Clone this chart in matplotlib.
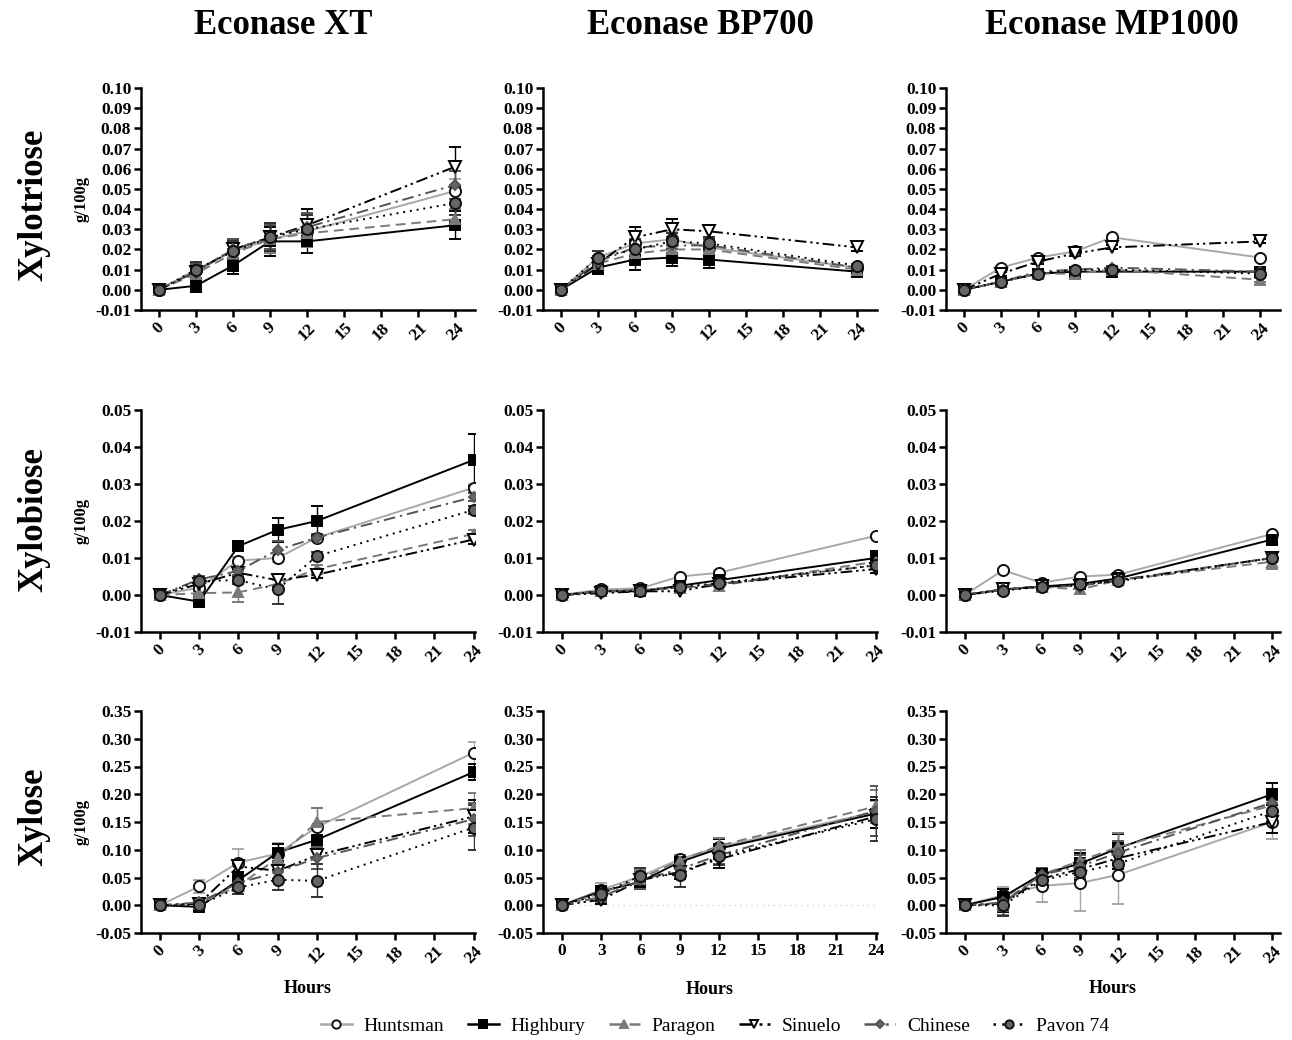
import numpy as np
import matplotlib
matplotlib.use("Agg")
import matplotlib.pyplot as plt
from matplotlib.lines import Line2D

plt.rcParams['font.family'] = ['Liberation Serif', 'DejaVu Serif']

hours = [0, 3, 6, 9, 12, 24]
varieties = ["Huntsman", "Highbury", "Paragon", "Sinuelo", "Chinese", "Pavon 74"]
enzymes = ["Econase XT", "Econase BP700", "Econase MP1000"]
sugars = ["Xylotriose", "Xylobiose", "Xylose"]

# ---- Xylotriose (g/100g) ----
tri_xt = {
    "Huntsman": [0, 0.010, 0.019, 0.025, 0.029, 0.049],
    "Highbury": [0, 0.002, 0.012, 0.024, 0.024, 0.032],
    "Paragon":  [0, 0.008, 0.018, 0.025, 0.028, 0.035],
    "Sinuelo":  [0, 0.009, 0.020, 0.026, 0.032, 0.061],
    "Chinese":  [0, 0.009, 0.020, 0.026, 0.031, 0.052],
    "Pavon 74": [0, 0.010, 0.019, 0.026, 0.030, 0.043],
}
tri_xt_err = {
    "Huntsman": [0, 0.004, 0.005, 0.007, 0.008, 0.006],
    "Highbury": [0, 0.003, 0.004, 0.007, 0.006, 0.007],
    "Paragon":  [0, 0.003, 0.004, 0.007, 0.007, 0.005],
    "Sinuelo":  [0, 0.004, 0.005, 0.007, 0.008, 0.010],
    "Chinese":  [0, 0.004, 0.005, 0.006, 0.007, 0.007],
    "Pavon 74": [0, 0.004, 0.005, 0.007, 0.007, 0.006],
}
tri_bp = {
    "Huntsman": [0, 0.016, 0.023, 0.025, 0.021, 0.011],
    "Highbury": [0, 0.011, 0.015, 0.016, 0.015, 0.009],
    "Paragon":  [0, 0.013, 0.018, 0.020, 0.020, 0.010],
    "Sinuelo":  [0, 0.013, 0.026, 0.030, 0.029, 0.021],
    "Chinese":  [0, 0.014, 0.021, 0.022, 0.022, 0.011],
    "Pavon 74": [0, 0.016, 0.020, 0.024, 0.023, 0.012],
}
tri_bp_err = {
    "Huntsman": [0, 0.003, 0.004, 0.004, 0.003, 0.001],
    "Highbury": [0, 0.003, 0.005, 0.004, 0.004, 0.001],
    "Paragon":  [0, 0.003, 0.004, 0.004, 0.003, 0.001],
    "Sinuelo":  [0, 0.003, 0.005, 0.005, 0.003, 0.002],
    "Chinese":  [0, 0.003, 0.004, 0.004, 0.003, 0.001],
    "Pavon 74": [0, 0.003, 0.004, 0.004, 0.003, 0.001],
}
tri_mp = {
    "Huntsman": [0, 0.011, 0.016, 0.019, 0.026, 0.016],
    "Highbury": [0, 0.004, 0.008, 0.009, 0.009, 0.009],
    "Paragon":  [0, 0.004, 0.008, 0.008, 0.010, 0.005],
    "Sinuelo":  [0, 0.008, 0.014, 0.018, 0.021, 0.024],
    "Chinese":  [0, 0.004, 0.009, 0.010, 0.011, 0.009],
    "Pavon 74": [0, 0.004, 0.008, 0.010, 0.010, 0.008],
}
tri_mp_err = {
    "Huntsman": [0, 0.001, 0.001, 0.001, 0.001, 0.001],
    "Highbury": [0, 0.001, 0.001, 0.001, 0.001, 0.001],
    "Paragon":  [0, 0.001, 0.001, 0.001, 0.001, 0.001],
    "Sinuelo":  [0, 0.001, 0.001, 0.001, 0.001, 0.001],
    "Chinese":  [0, 0.001, 0.001, 0.001, 0.001, 0.001],
    "Pavon 74": [0, 0.001, 0.001, 0.001, 0.001, 0.001],
}

# ---- Xylobiose (g/100g) ----
bi_xt = {
    "Huntsman": [0, 0.0020, 0.0093, 0.0100, 0.0155, 0.0290],
    "Highbury": [0, -0.0018, 0.0132, 0.0176, 0.0200, 0.0365],
    "Paragon":  [0, 0.0005, 0.0007, 0.0030, 0.0070, 0.0165],
    "Sinuelo":  [0, 0.0030, 0.0060, 0.0040, 0.0055, 0.0150],
    "Chinese":  [0, 0.0042, 0.0065, 0.0122, 0.0155, 0.0265],
    "Pavon 74": [0, 0.0038, 0.0040, 0.0015, 0.0105, 0.0230],
}
bi_xt_err = {
    "Huntsman": [0, 0.0010, 0.0010, 0.0010, 0.0010, 0.0010],
    "Highbury": [0, 0.0005, 0.0010, 0.0033, 0.0040, 0.0070],
    "Paragon":  [0, 0.0005, 0.0025, 0.0010, 0.0010, 0.0010],
    "Sinuelo":  [0, 0.0010, 0.0010, 0.0015, 0.0010, 0.0012],
    "Chinese":  [0, 0.0010, 0.0010, 0.0025, 0.0010, 0.0010],
    "Pavon 74": [0, 0.0010, 0.0010, 0.0040, 0.0010, 0.0010],
}
bi_bp = {
    "Huntsman": [0, 0.0015, 0.0018, 0.0050, 0.0060, 0.0160],
    "Highbury": [0, 0.0010, 0.0010, 0.0025, 0.0040, 0.0100],
    "Paragon":  [0, 0.0010, 0.0015, 0.0020, 0.0025, 0.0090],
    "Sinuelo":  [0, 0.0005, 0.0010, 0.0010, 0.0030, 0.0070],
    "Chinese":  [0, 0.0010, 0.0012, 0.0020, 0.0030, 0.0080],
    "Pavon 74": [0, 0.0010, 0.0012, 0.0022, 0.0032, 0.0080],
}
bi_bp_err = {
    "Huntsman": [0, 0.0003, 0.0003, 0.0004, 0.0004, 0.0005],
    "Highbury": [0, 0.0003, 0.0003, 0.0004, 0.0004, 0.0020],
    "Paragon":  [0, 0.0003, 0.0003, 0.0004, 0.0004, 0.0010],
    "Sinuelo":  [0, 0.0003, 0.0003, 0.0004, 0.0004, 0.0010],
    "Chinese":  [0, 0.0003, 0.0003, 0.0004, 0.0004, 0.0010],
    "Pavon 74": [0, 0.0003, 0.0003, 0.0004, 0.0004, 0.0010],
}
bi_mp = {
    "Huntsman": [0, 0.0067, 0.0033, 0.0050, 0.0055, 0.0165],
    "Highbury": [0, 0.0015, 0.0023, 0.0030, 0.0045, 0.0150],
    "Paragon":  [0, 0.0015, 0.0022, 0.0015, 0.0040, 0.0090],
    "Sinuelo":  [0, 0.0015, 0.0023, 0.0025, 0.0040, 0.0100],
    "Chinese":  [0, 0.0015, 0.0022, 0.0025, 0.0040, 0.0100],
    "Pavon 74": [0, 0.0012, 0.0022, 0.0030, 0.0037, 0.0100],
}
bi_mp_err = {
    "Huntsman": [0, 0.0004, 0.0004, 0.0004, 0.0004, 0.0006],
    "Highbury": [0, 0.0004, 0.0004, 0.0004, 0.0004, 0.0008],
    "Paragon":  [0, 0.0004, 0.0004, 0.0012, 0.0004, 0.0020],
    "Sinuelo":  [0, 0.0004, 0.0004, 0.0004, 0.0004, 0.0010],
    "Chinese":  [0, 0.0004, 0.0004, 0.0004, 0.0004, 0.0010],
    "Pavon 74": [0, 0.0004, 0.0004, 0.0004, 0.0004, 0.0010],
}

# ---- Xylose (g/100g) ----
xy_xt = {
    "Huntsman": [0, 0.034, 0.077, 0.093, 0.141, 0.275],
    "Highbury": [0, -0.003, 0.045, 0.095, 0.118, 0.240],
    "Paragon":  [0, 0.003, 0.035, 0.085, 0.150, 0.175],
    "Sinuelo":  [0, 0.003, 0.070, 0.062, 0.090, 0.160],
    "Chinese":  [0, 0.005, 0.040, 0.060, 0.085, 0.155],
    "Pavon 74": [0, 0.000, 0.032, 0.046, 0.044, 0.140],
}
xy_xt_err = {
    "Huntsman": [0, 0.012, 0.025, 0.020, 0.035, 0.020],
    "Highbury": [0, 0.008, 0.015, 0.015, 0.020, 0.015],
    "Paragon":  [0, 0.008, 0.015, 0.015, 0.025, 0.028],
    "Sinuelo":  [0, 0.008, 0.012, 0.015, 0.025, 0.030],
    "Chinese":  [0, 0.008, 0.012, 0.015, 0.020, 0.030],
    "Pavon 74": [0, 0.008, 0.012, 0.018, 0.030, 0.040],
}
xy_bp = {
    "Huntsman": [0, 0.028, 0.052, 0.083, 0.105, 0.168],
    "Highbury": [0, 0.025, 0.042, 0.078, 0.102, 0.165],
    "Paragon":  [0, 0.022, 0.048, 0.080, 0.107, 0.178],
    "Sinuelo":  [0, 0.010, 0.045, 0.060, 0.083, 0.160],
    "Chinese":  [0, 0.015, 0.045, 0.065, 0.090, 0.170],
    "Pavon 74": [0, 0.020, 0.053, 0.055, 0.088, 0.155],
}
xy_bp_err = {
    "Huntsman": [0, 0.012, 0.015, 0.008, 0.015, 0.020],
    "Highbury": [0, 0.010, 0.012, 0.010, 0.018, 0.025],
    "Paragon":  [0, 0.010, 0.015, 0.010, 0.015, 0.030],
    "Sinuelo":  [0, 0.008, 0.012, 0.012, 0.015, 0.035],
    "Chinese":  [0, 0.010, 0.015, 0.010, 0.015, 0.045],
    "Pavon 74": [0, 0.010, 0.015, 0.022, 0.015, 0.040],
}
xy_mp = {
    "Huntsman": [0, 0.018, 0.035, 0.040, 0.055, 0.150],
    "Highbury": [0, 0.015, 0.056, 0.075, 0.103, 0.200],
    "Paragon":  [0, 0.003, 0.055, 0.080, 0.105, 0.180],
    "Sinuelo":  [0, 0.003, 0.048, 0.065, 0.085, 0.150],
    "Chinese":  [0, 0.005, 0.055, 0.070, 0.095, 0.185],
    "Pavon 74": [0, 0.000, 0.045, 0.060, 0.075, 0.170],
}
xy_mp_err = {
    "Huntsman": [0, 0.015, 0.030, 0.050, 0.053, 0.030],
    "Highbury": [0, 0.015, 0.012, 0.020, 0.025, 0.020],
    "Paragon":  [0, 0.020, 0.012, 0.020, 0.025, 0.020],
    "Sinuelo":  [0, 0.015, 0.012, 0.020, 0.020, 0.020],
    "Chinese":  [0, 0.015, 0.012, 0.020, 0.020, 0.020],
    "Pavon 74": [0, 0.020, 0.012, 0.020, 0.020, 0.020],
}

panel_data = [
    [(tri_xt, tri_xt_err), (tri_bp, tri_bp_err), (tri_mp, tri_mp_err)],
    [(bi_xt, bi_xt_err), (bi_bp, bi_bp_err), (bi_mp, bi_mp_err)],
    [(xy_xt, xy_xt_err), (xy_bp, xy_bp_err), (xy_mp, xy_mp_err)],
]
row_yticks = [np.round(np.arange(-0.01, 0.1001, 0.01), 2),
              np.round(np.arange(-0.01, 0.0501, 0.01), 2),
              np.round(np.arange(-0.05, 0.3501, 0.05), 2)]
xticks = [0, 3, 6, 9, 12, 15, 18, 21, 24]

styles = {
    "Huntsman": dict(color='#a8a8a8', ls='-', marker='o', mfc='white', mec='#111111', ms=8, ecol='#a8a8a8'),
    "Highbury": dict(color='#000000', ls='-', marker='s', mfc='#000000', mec='#000000', ms=7.5, ecol='#000000'),
    "Paragon":  dict(color='#7a7a7a', ls=(0, (5, 3)), marker='^', mfc='#7a7a7a', mec='#7a7a7a', ms=7.5, ecol='#7a7a7a'),
    "Sinuelo":  dict(color='#000000', ls=(0, (6, 2, 1.2, 2, 1.2, 2)), marker='v', mfc='white', mec='#000000', ms=8.5, ecol='#000000'),
    "Chinese":  dict(color='#555555', ls=(0, (6, 2.5, 1.2, 2.5)), marker='D', mfc='#666666', mec='#555555', ms=5.5, ecol='#555555'),
    "Pavon 74": dict(color='#000000', ls=(0, (1, 2.5)), marker='o', mfc='#656565', mec='#111111', ms=8, ecol='#333333'),
}

W, H = 1292, 1040
fig = plt.figure(figsize=(W / 100, H / 100), dpi=100)

col_left = [141, 543, 946]
col_w = 334
row_top = [88, 410, 711]
row_h = 222

tick_font = dict(family=['Liberation Serif', 'DejaVu Serif'], weight='bold', size=12.5)

for r in range(3):
    for c in range(3):
        ax = fig.add_axes([col_left[c] / W, 1 - (row_top[r] + row_h) / H, col_w / W, row_h / H])
        data, err = panel_data[r][c]
        if r == 2 and c == 1:
            ax.plot([0, 24], [0, 0], ls=(0, (1, 3)), color='#d8d8d8', lw=1, zorder=0)
        for v in varieties:
            s = styles[v]
            ax.errorbar(hours, data[v], yerr=err[v], color=s['color'], ls=s['ls'], lw=1.4,
                        marker=s['marker'], mfc=s['mfc'], mec=s['mec'], ms=s['ms'], mew=1.4,
                        ecolor=s['ecol'], elinewidth=1.0, capsize=4, capthick=1.0)
        yt = row_yticks[r]
        ax.set_ylim(yt[0], yt[-1])
        ax.set_yticks(yt)
        ax.set_yticklabels([f"{t:.2f}" for t in yt], **tick_font)
        if r == 0:
            ax.set_xlim(-1.45, 25.6)
        elif c == 2:
            ax.set_xlim(-1.45, 24.6)
        else:
            ax.set_xlim(-1.45, 24.1)
        ax.set_xticks(xticks)
        if r == 2 and c == 1:
            ax.set_xticklabels([str(t) for t in xticks], **tick_font)
        else:
            ax.set_xticklabels([str(t) for t in xticks], rotation=45, ha='center', **tick_font)
        for sp in ['top', 'right']:
            ax.spines[sp].set_visible(False)
        for sp in ['left', 'bottom']:
            ax.spines[sp].set_linewidth(1.8)
        ax.tick_params(axis='both', direction='out', length=5, width=1.8, pad=2)
        ax.patch.set_alpha(0)
        if r == 2:
            ax.set_xlabel("Hours", fontsize=13, weight='bold', labelpad=10 if c != 1 else 16)
        if c == 0:
            ax.set_ylabel("g/100g", fontsize=12, weight='bold', labelpad=4)

col_centers = [283, 700, 1112]
for c in range(3):
    fig.text(col_centers[c] / W, 1 - 25 / H, enzymes[c], ha='center', va='center',
             fontsize=25, weight='bold')

row_centers = [205, 520, 817]
for r in range(3):
    fig.text(34 / W, 1 - row_centers[r] / H, sugars[r], ha='center', va='center',
             rotation=90, fontsize=25, weight='bold')

handles = []
for v in varieties:
    s = styles[v]
    handles.append(Line2D([0], [0], color=s['color'], ls=s['ls'], lw=1.8, marker=s['marker'],
                          mfc=s['mfc'], mec=s['mec'], ms=s['ms'] * 0.75, mew=1.4))
fig.legend(handles, varieties, loc='center', bbox_to_anchor=(715 / W, 1 - 1026 / H),
           ncol=6, frameon=False, fontsize=14, handlelength=1.6, handletextpad=0.6,
           columnspacing=1.2)

fig.savefig("out.png", dpi=100)
